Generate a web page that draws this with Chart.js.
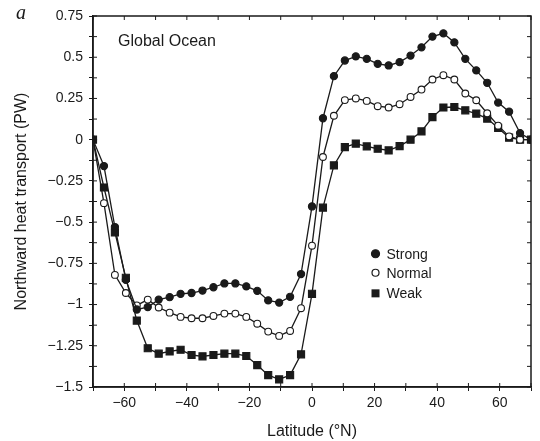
<!DOCTYPE html>
<html>
<head>
<meta charset="utf-8">
<script src="https://cdn.jsdelivr.net/npm/chart.js@4/dist/chart.umd.min.js"></script>
<style>
  html, body { margin: 0; padding: 0; background: #fff; }
  #wrap { width: 540px; height: 441px; }
</style>
</head>
<body>
<div id="wrap"><canvas id="heatChart" width="540" height="441"></canvas></div>
<script>
// Latitude grid (°N), one point every 3.5 degrees
const latitudes = [
    -70, -66.5, -63, -59.5, -56, -52.5, -49, -45.5, -42, -38.5, -35, -31.5, -28, -24.5,
    -21, -17.5, -14, -10.5, -7, -3.5, 0, 3.5, 7, 10.5, 14, 17.5, 21, 24.5, 28, 31.5,
    35, 38.5, 42, 45.5, 49, 52.5, 56, 59.5, 63, 66.5, 70
];

// Northward heat transport (PW)
const strongValues = [
    0, -0.16, -0.53, -0.85, -1.03, -1.015, -0.97, -0.955, -0.935, -0.93, -0.915, -0.895, -0.872, -0.872,
    -0.89, -0.917, -0.975, -0.988, -0.953, -0.815, -0.405, 0.13, 0.385, 0.48, 0.505, 0.49, 0.46, 0.45, 0.47, 0.51,
    0.56, 0.625, 0.645, 0.59, 0.49, 0.42, 0.345, 0.225, 0.17, 0.04, 0.0
];
const normalValues = [
    0, -0.385, -0.82, -0.93, -1.005, -0.97, -1.018, -1.049, -1.075, -1.083, -1.083, -1.069, -1.055, -1.055,
    -1.075, -1.116, -1.164, -1.19, -1.16, -1.022, -0.643, -0.105, 0.145, 0.24, 0.25, 0.235, 0.203, 0.195, 0.215, 0.259,
    0.304, 0.365, 0.391, 0.365, 0.28, 0.239, 0.16, 0.085, 0.02, 0.0, 0.0
];
const weakValues = [
    0, -0.29, -0.562, -0.838, -1.097, -1.265, -1.298, -1.284, -1.274, -1.306, -1.314, -1.306, -1.298, -1.298,
    -1.312, -1.367, -1.428, -1.454, -1.428, -1.302, -0.935, -0.412, -0.156, -0.045, -0.024, -0.041, -0.055, -0.065, -0.039, 0.0,
    0.05, 0.137, 0.195, 0.198, 0.178, 0.158, 0.128, 0.071, 0.012, 0.0, 0.0
];

const seriesNames = ['Strong', 'Normal', 'Weak'];

// Axis settings
const xMin = -70, xMax = 70, xStep = 10, xLabelEvery = 20;
const yMin = -1.5, yMax = 0.75, yStep = 0.125, yLabelEvery = 0.25;

const FONT = '"Liberation Sans", Arial, Helvetica, sans-serif';
const INK = '#1a1a1a';

function toPoints(values) {
    return latitudes.map(function(lat, i) { return { x: lat, y: values[i] }; });
}

function minus(v) {
    return (v < 0 ? '\u2212' : '') + String(Math.abs(Math.round(v * 1000) / 1000));
}

function isMultiple(v, step) {
    const r = v / step;
    return Math.abs(r - Math.round(r)) < 1e-6;
}

// Frame, inward ticks, panel letter, inset title and legend
const decorPlugin = {
    id: 'decor',
    afterDatasetsDraw(chart) {
        const ctx = chart.ctx;
        const area = chart.chartArea;
        const xs = chart.scales.x;
        const ys = chart.scales.y;
        ctx.save();
        ctx.strokeStyle = INK;
        ctx.lineWidth = 1.5;
        ctx.strokeRect(area.left, area.top, area.right - area.left, area.bottom - area.top);

        ctx.lineWidth = 1;
        const inner = 4;
        ctx.beginPath();
        xs.ticks.forEach(function(t) {
            const px = xs.getPixelForValue(t.value);
            ctx.moveTo(px, area.bottom); ctx.lineTo(px, area.bottom - inner);
            ctx.moveTo(px, area.top); ctx.lineTo(px, area.top + inner);
        });
        ys.ticks.forEach(function(t) {
            const py = ys.getPixelForValue(t.value);
            ctx.moveTo(area.left, py); ctx.lineTo(area.left + inner, py);
            ctx.moveTo(area.right, py); ctx.lineTo(area.right - inner, py);
        });
        ctx.stroke();

        // Inset title
        ctx.fillStyle = INK;
        ctx.font = '16px ' + FONT;
        ctx.textAlign = 'left';
        ctx.textBaseline = 'middle';
        ctx.fillText('Global Ocean', xs.getPixelForValue(-62), ys.getPixelForValue(0.595));

        // Legend
        const lx = xs.getPixelForValue(20.3);
        const tx = lx + 11;
        const rows = [-0.692, -0.807, -0.932].map(function(v) { return ys.getPixelForValue(v); });
        ctx.font = '14px ' + FONT;
        chart.data.datasets.forEach(function(ds, i) {
            const y = rows[i];
            ctx.lineWidth = 1.2;
            ctx.strokeStyle = INK;
            ctx.fillStyle = ds.pointBackgroundColor;
            if (ds.pointStyle === 'rect') {
                ctx.fillRect(lx - 4, y - 4, 8, 8);
            } else {
                ctx.beginPath();
                ctx.arc(lx, y, i === 0 ? 4 : 3.5, 0, Math.PI * 2);
                ctx.fill();
                ctx.stroke();
            }
            ctx.fillStyle = INK;
            ctx.fillText(ds.label, tx, y + 1);
        });

        // Panel letter
        ctx.font = 'italic 20px "Liberation Serif", "Times New Roman", serif';
        ctx.textAlign = 'left';
        ctx.fillText('a', 16, 14);
        ctx.restore();
    }
};

function makeDataset(label, values, style, fill, radius) {
    return {
        label: label,
        data: toPoints(values),
        borderColor: INK,
        borderWidth: 1.3,
        pointStyle: style,
        pointRadius: radius,
        pointHoverRadius: radius,
        pointBackgroundColor: fill,
        pointBorderColor: INK,
        pointBorderWidth: 1.1,
        tension: 0,
        fill: false
    };
}

const ctx = document.getElementById('heatChart').getContext('2d');
const heatChart = new Chart(ctx, {
    type: 'line',
    data: {
        datasets: [
            makeDataset(seriesNames[0], strongValues, 'circle', INK, 3.6),
            makeDataset(seriesNames[1], normalValues, 'circle', '#ffffff', 3.4),
            makeDataset(seriesNames[2], weakValues, 'rect', INK, 5)
        ]
    },
    options: {
        responsive: false,
        animation: false,
        devicePixelRatio: 1,
        layout: { padding: { left: 12, right: 9, top: 16, bottom: 0 } },
        plugins: {
            legend: { display: false },
            tooltip: { enabled: false }
        },
        scales: {
            x: {
                type: 'linear',
                min: xMin,
                max: xMax,
                border: { display: true, color: INK, width: 1.5 },
                grid: { drawOnChartArea: false, drawTicks: true, tickLength: 4, color: INK },
                ticks: {
                    stepSize: xStep,
                    autoSkip: false,
                    maxRotation: 0,
                    padding: 4,
                    color: INK,
                    font: { family: FONT, size: 14 },
                    callback: function(v) { return isMultiple(v, xLabelEvery) ? minus(v) : ''; }
                },
                title: {
                    display: true,
                    text: 'Latitude (\u00b0N)',
                    color: INK,
                    font: { family: FONT, size: 16 },
                    padding: { top: 6, bottom: 0 }
                }
            },
            y: {
                type: 'linear',
                min: yMin,
                max: yMax,
                afterFit: function(scale) { scale.width = 81; },
                border: { display: true, color: INK, width: 1.5 },
                grid: { drawOnChartArea: false, drawTicks: true, tickLength: 4, color: INK },
                ticks: {
                    stepSize: yStep,
                    autoSkip: false,
                    padding: 6,
                    color: INK,
                    font: { family: FONT, size: 14 },
                    callback: function(v) { return isMultiple(v, yLabelEvery) ? minus(v) : ''; }
                },
                title: {
                    display: true,
                    text: 'Northward heat transport (PW)',
                    color: INK,
                    font: { family: FONT, size: 16 },
                    padding: { top: 0, bottom: 0 }
                }
            }
        }
    },
    plugins: [decorPlugin]
});
</script>
</body>
</html>
